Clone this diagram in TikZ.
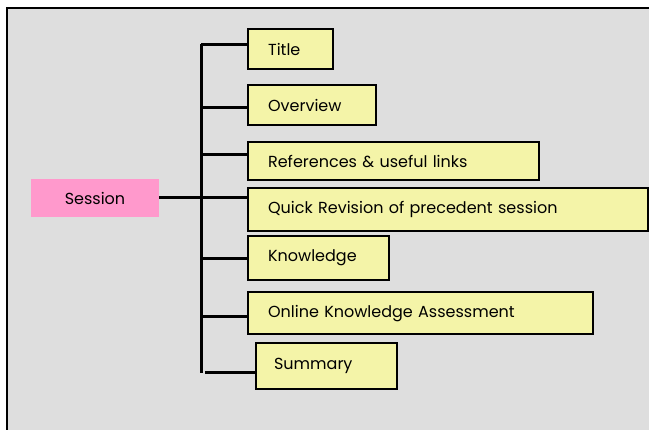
\documentclass[tikz,border=0pt]{standalone}
\usepackage{fontspec}
\setmainfont{Poppins}
\usepackage{tikz}
\usepackage{xcolor}
\definecolor{panelGray}{HTML}{DEDEDE}
\definecolor{itemYellow}{HTML}{F4F4A8}
\definecolor{sessionPink}{HTML}{FF99CC}

\begin{document}
\begin{tikzpicture}[
    x=1pt, y=-1pt,
    item/.style={rectangle, draw, line width=2.2pt, fill=itemYellow,
                 anchor=north west, inner xsep=20pt, inner ysep=0pt,
                 align=left, font=\fontsize{16}{19}\selectfont},
    branch/.style={line width=3pt},
]
    \useasboundingbox (0,0) rectangle (649,430);
    \fill[white] (0,0) rectangle (649,430);
    \draw[line width=2.2pt, fill=panelGray] (7,8) rectangle (670,450);

    % root
    \node[fill=sessionPink, minimum width=128pt, minimum height=38pt,
          font=\fontsize{16}{19}\selectfont] (session) at (95,198) {Session};

    % items
    \node[item, minimum height=40pt, text width=45pt]  (title)    at (247,28)  {Title};
    \node[item, minimum height=40pt, text width=88pt]  (overview) at (247,84)  {Overview};
    \node[item, minimum height=38pt, text width=251pt] (refs)     at (247,141) {References \& useful links};
    \node[item, minimum height=43pt, text width=360pt] (quick)    at (247,187) {Quick Revision of precedent session};
    \node[item, minimum height=44pt, text width=101pt] (know)     at (247,235) {Knowledge};
    \node[item, minimum height=42pt, text width=305pt] (online)   at (247,291) {Online Knowledge Assessment};
    \node[item, minimum height=46pt, text width=105pt, inner xsep=18pt] (summary) at (255,342) {Summary};

    % trunk
    \coordinate (ttop) at (201,44);
    \coordinate (tbot) at (201,373);
    \coordinate (t1) at (201,45);
    \coordinate (t2) at (201,108);
    \coordinate (t3) at (201,155);
    \coordinate (t5) at (201,259);
    \coordinate (t6) at (201,317);
    \coordinate (t7) at (205,373);

    \draw[branch] (ttop) -- (tbot);
    \draw[branch] (session.east) -- (session.east -| quick.west);
    \draw[branch] (t1) -- (t1 -| title.west);
    \draw[branch] (t2) -- (t2 -| overview.west);
    \draw[branch] (t3) -- (t3 -| refs.west);
    \draw[branch] (t5) -- (t5 -| know.west);
    \draw[branch] (t6) -- (t6 -| online.west);
    \draw[branch] (t7) -- (t7 -| summary.west);
\end{tikzpicture}
\end{document}
